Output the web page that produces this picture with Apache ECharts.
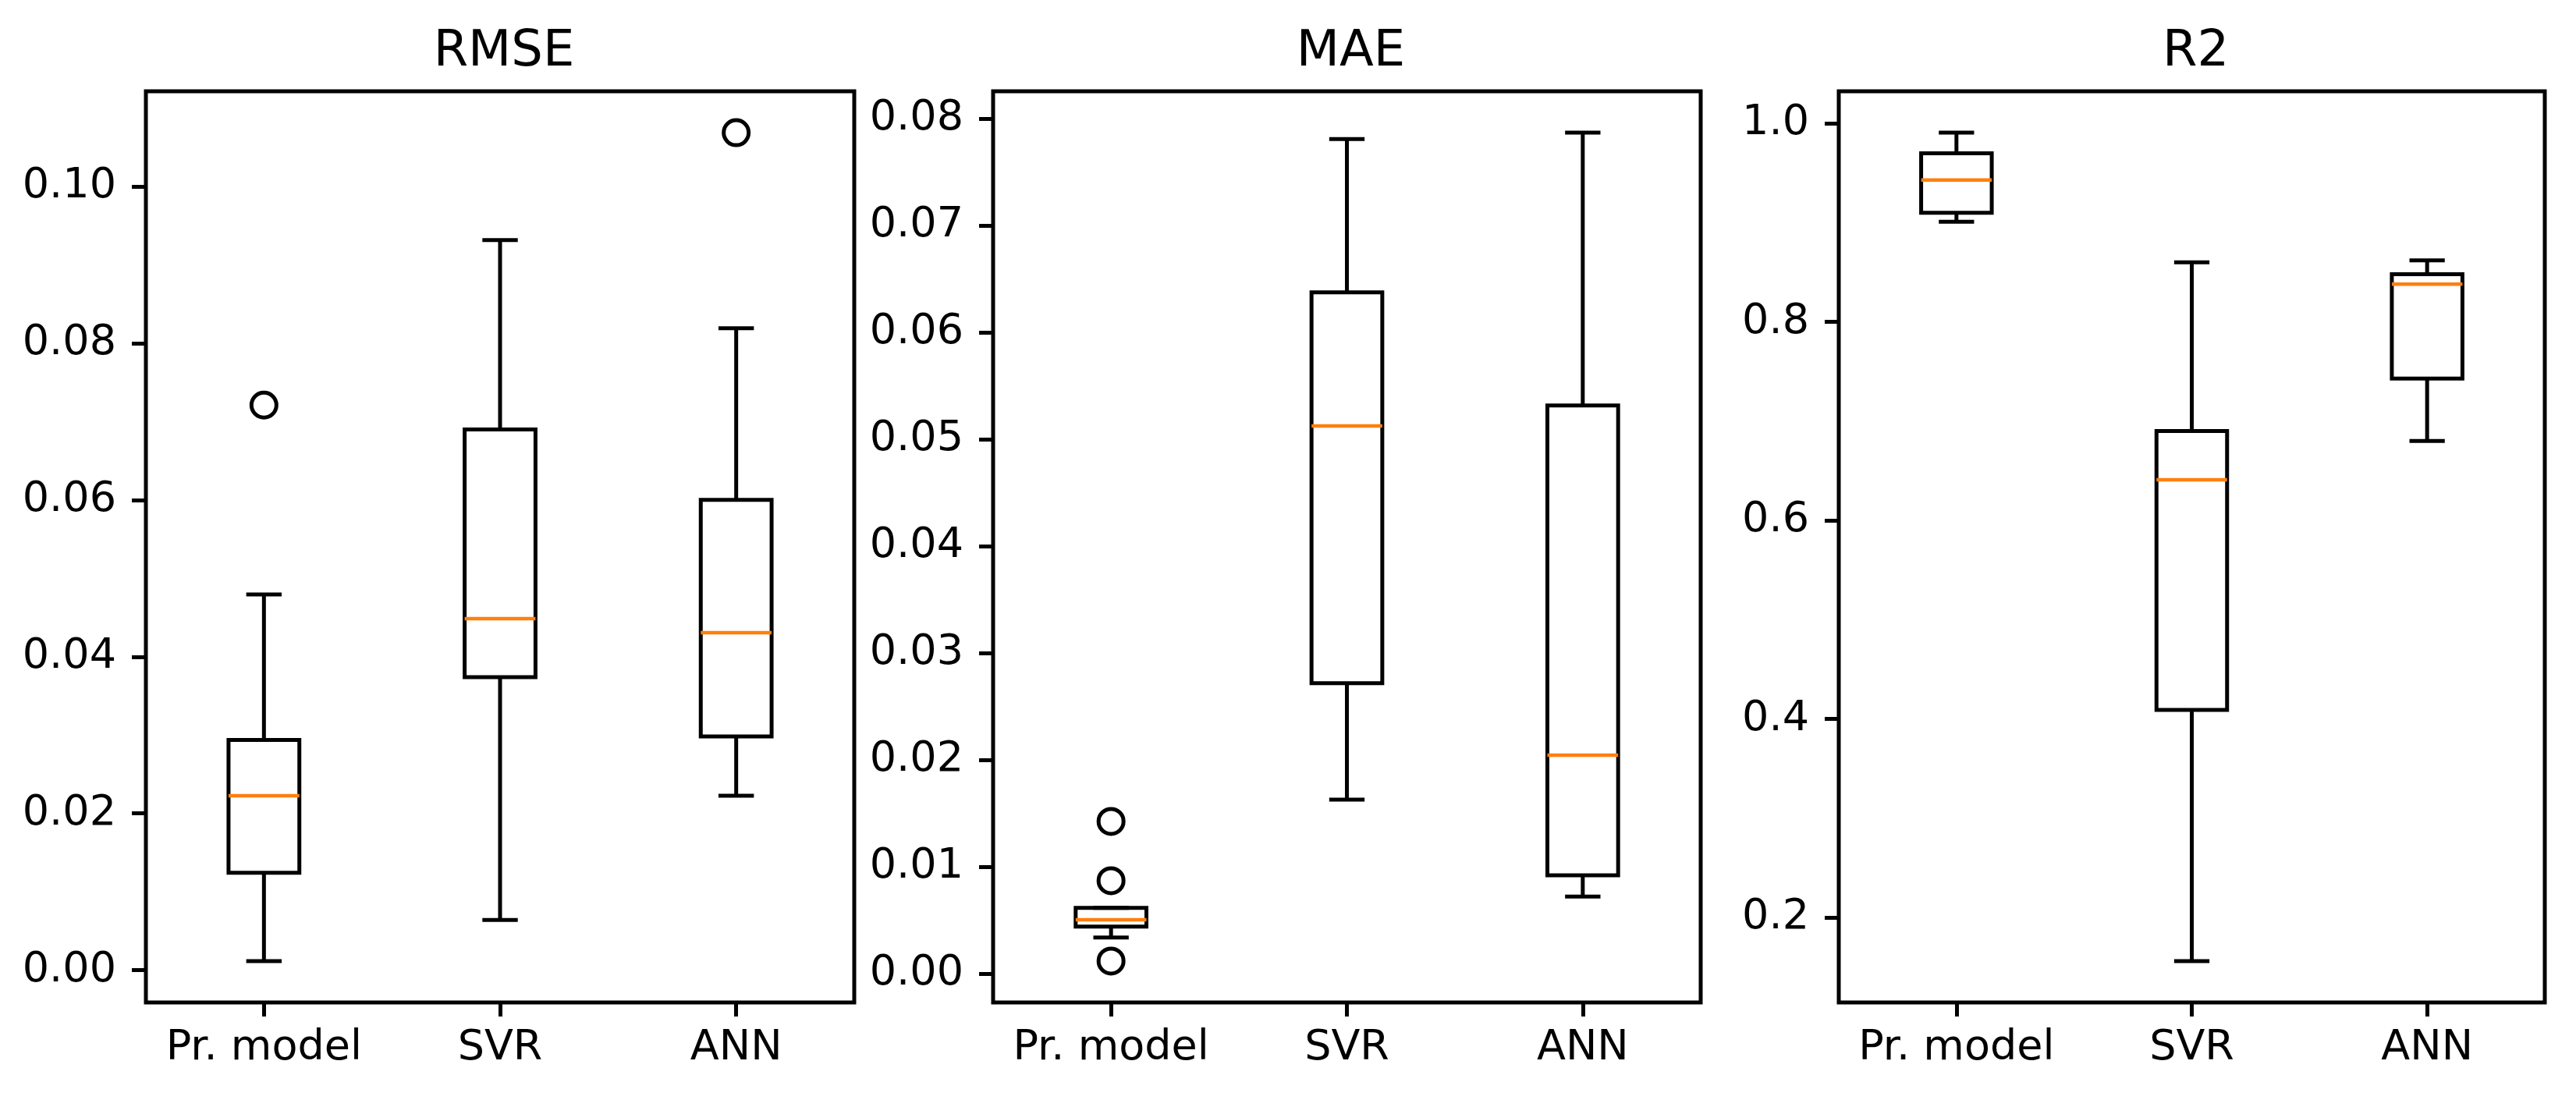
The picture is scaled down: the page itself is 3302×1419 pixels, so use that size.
<!DOCTYPE html>
<html>
<head>
<meta charset="utf-8">
<script src="https://cdn.jsdelivr.net/npm/echarts@6/dist/echarts.min.js"></script>
<style>html,body{margin:0;padding:0;background:#fff}#c{width:3302px;height:1419px}</style>
</head>
<body>
<div id="c"></div>
<script>
const categories = ['Pr. model', 'SVR', 'ANN'];
const titles = ['RMSE', 'MAE', 'R2'];

// [low whisker, Q1, median, Q3, high whisker]
const rmseBoxes = [
  [0.00117, 0.01243, 0.02225, 0.02937, 0.04793],
  [0.0064, 0.0374, 0.04486, 0.0690, 0.09315],
  [0.02225, 0.02982, 0.04306, 0.0600, 0.0819]
];
const rmseOutliers = [[0, 0.0721], [2, 0.10685]];
const rmseTicks = [0, 0.02, 0.04, 0.06, 0.08, 0.10];
const rmseTickLabels = ['0.00', '0.02', '0.04', '0.06', '0.08', '0.10'];

const maeBoxes = [
  [0.00336, 0.00438, 0.00503, 0.00613, 0.00613],
  [0.01626, 0.02717, 0.05124, 0.06374, 0.07808],
  [0.0072, 0.00919, 0.02043, 0.05316, 0.07868]
];
const maeOutliers = [[0, 0.01423], [0, 0.00868], [0, 0.00116]];
const maeTicks = [0, 0.01, 0.02, 0.03, 0.04, 0.05, 0.06, 0.07, 0.08];
const maeTickLabels = ['0.00', '0.01', '0.02', '0.03', '0.04', '0.05', '0.06', '0.07', '0.08'];

const r2Boxes = [
  [0.901, 0.910, 0.943, 0.970, 0.9907],
  [0.156, 0.409, 0.641, 0.690, 0.860],
  [0.680, 0.743, 0.838, 0.848, 0.862]
];
const r2Outliers = [];
const r2Ticks = [0.2, 0.4, 0.6, 0.8, 1.0];
const r2TickLabels = ['0.2', '0.4', '0.6', '0.8', '1.0'];

const panels = [
  { boxes: rmseBoxes, outliers: rmseOutliers, ticks: rmseTicks, labels: rmseTickLabels },
  { boxes: maeBoxes, outliers: maeOutliers, ticks: maeTicks, labels: maeTickLabels },
  { boxes: r2Boxes, outliers: r2Outliers, ticks: r2Ticks, labels: r2TickLabels }
];

const gridLefts = [187, 1273, 2357];
const gridWidths = [908, 907, 905];
const gridTop = 117;
const gridHeight = 1168;
const FONT = 'DejaVu Sans';
const LW = 5;

function extent(p) {
  let lo = Infinity, hi = -Infinity;
  p.boxes.forEach(b => b.forEach(v => { lo = Math.min(lo, v); hi = Math.max(hi, v); }));
  p.outliers.forEach(o => { lo = Math.min(lo, o[1]); hi = Math.max(hi, o[1]); });
  const pad = (hi - lo) * 0.05;
  return [lo - pad, hi + pad];
}

const option = {
  backgroundColor: '#fff',
  animation: false,
  title: [], grid: [], xAxis: [], yAxis: [], series: []
};

panels.forEach((p, i) => {
  const ext = extent(p);
  option.title.push({
    text: titles[i],
    left: gridLefts[i] + gridWidths[i] / 2,
    textAlign: 'center',
    top: 30,
    textStyle: { fontFamily: FONT, fontSize: 64, fontWeight: 'normal', color: '#000' }
  });
  option.grid.push({
    left: gridLefts[i], top: gridTop, width: gridWidths[i], height: gridHeight,
    show: true, borderColor: '#000', borderWidth: LW, backgroundColor: 'transparent'
  });
  option.xAxis.push({
    type: 'category', gridIndex: i, data: categories, boundaryGap: true,
    position: 'bottom',
    axisLine: { show: false, onZero: false },
    axisTick: { show: true, alignWithLabel: true, inside: false, length: 18, lineStyle: { color: '#000', width: LW } },
    axisLabel: { interval: 0, margin: 32, fontFamily: FONT, fontSize: 54, color: '#000' },
    splitLine: { show: false }
  });
  const labels = p.labels, ticks = p.ticks;
  option.yAxis.push({
    type: 'value', gridIndex: i, min: ext[0], max: ext[1],
    axisLine: { show: false, onZero: false },
    axisTick: { show: true, inside: false, length: 18, customValues: ticks, lineStyle: { color: '#000', width: LW } },
    axisLabel: {
      margin: 38, fontFamily: FONT, fontSize: 54, color: '#000', customValues: ticks,
      formatter: v => { const k = ticks.findIndex(t => Math.abs(t - v) < 1e-9); return k >= 0 ? labels[k] : ''; }
    },
    splitLine: { show: false }
  });
  option.series.push({
    type: 'custom', xAxisIndex: i, yAxisIndex: i,
    data: p.boxes.map((b, k) => [k].concat(b)),
    renderItem: function (params, api) {
      const x = api.value(0);
      const band = api.size([1, 0])[0];
      const half = band * 0.15, capHalf = band * 0.075;
      const lowP = api.coord([x, api.value(1)]);
      const q1P = api.coord([x, api.value(2)]);
      const medP = api.coord([x, api.value(3)]);
      const q3P = api.coord([x, api.value(4)]);
      const highP = api.coord([x, api.value(5)]);
      const cx = lowP[0];
      const black = { stroke: '#000', lineWidth: LW, fill: null };
      return {
        type: 'group',
        children: [
          { type: 'line', shape: { x1: cx, y1: q1P[1], x2: cx, y2: lowP[1] }, style: black },
          { type: 'line', shape: { x1: cx, y1: q3P[1], x2: cx, y2: highP[1] }, style: black },
          { type: 'line', shape: { x1: cx - capHalf, y1: lowP[1], x2: cx + capHalf, y2: lowP[1] }, style: black },
          { type: 'line', shape: { x1: cx - capHalf, y1: highP[1], x2: cx + capHalf, y2: highP[1] }, style: black },
          { type: 'rect', shape: { x: cx - half, y: q3P[1], width: 2 * half, height: q1P[1] - q3P[1] }, style: { stroke: '#000', lineWidth: LW, fill: 'none' } },
          { type: 'line', shape: { x1: cx - half, y1: medP[1], x2: cx + half, y2: medP[1] }, style: { stroke: '#ff7f0e', lineWidth: LW - 0.5, fill: null } }
        ]
      };
    },
    z: 2
  });
  option.series.push({
    type: 'scatter', xAxisIndex: i, yAxisIndex: i,
    data: p.outliers,
    symbol: 'circle', symbolSize: 32,
    itemStyle: { color: 'rgba(0,0,0,0)', borderColor: '#000', borderWidth: LW, opacity: 1 },
    emphasis: { disabled: true },
    z: 3
  });
});

const chart = echarts.init(document.getElementById('c'), null, { renderer: 'canvas' });
chart.setOption(option);
</script>
</body>
</html>
